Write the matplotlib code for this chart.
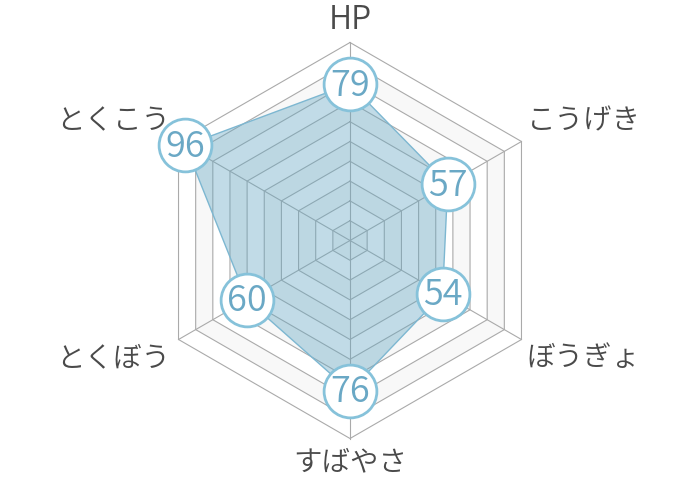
import numpy as np
import matplotlib
matplotlib.use("Agg")
import matplotlib.pyplot as plt

categories = ["HP", "こうげき", "ぼうぎょ", "すばやさ", "とくぼう", "とくこう"]
values = [79, 57, 54, 76, 60, 96]
max_value = 100
ring_step = 10

plt.rcParams['font.family'] = ['Noto Sans CJK JP', 'DejaVu Sans']

fig = plt.figure(figsize=(7, 4.8), dpi=100)
ax = fig.add_axes([0, 0, 1, 1])
scale = 1.98  # px per unit
ax.set_xlim(-350 / scale, 350 / scale)
ax.set_ylim(-239.5 / scale, 240.5 / scale)
ax.set_aspect('equal')
ax.axis('off')

n = len(categories)
angles = np.pi / 2 - np.arange(n) * 2 * np.pi / n


def xy(r):
    r = np.asarray(r, dtype=float)
    return r * np.cos(angles), r * np.sin(angles)


levels = np.arange(ring_step, max_value + 1, ring_step)
for i, lv in enumerate(levels[::-1]):
    x, y = xy(np.full(n, lv))
    face = '#ffffff' if i % 2 == 0 else '#f8f8f8'
    ax.fill(x, y, facecolor=face, edgecolor='none', zorder=1)

for lv in levels:
    x, y = xy(np.full(n, lv))
    ax.plot(np.append(x, x[0]), np.append(y, y[0]), color='#aaaaaa', lw=0.8, zorder=2)
ox, oy = xy(np.full(n, max_value))
for k in range(n):
    ax.plot([0, ox[k]], [0, oy[k]], color='#aaaaaa', lw=0.8, zorder=2)

vx, vy = xy(values)
ax.fill(vx, vy, facecolor=(100/255, 167/255, 195/255, 0.4),
        edgecolor='#7db7d1', lw=1.0, zorder=3)
ax.plot(vx, vy, 'o', markersize=38, markerfacecolor='white',
        markeredgecolor='#86c2da', markeredgewidth=2, zorder=4, linestyle='none')
for x, y, v in zip(vx, vy, values):
    ax.text(x, y - 0.5, str(v), ha='center', va='center', fontsize=26,
            fontweight=350, color='#6aa8c5', zorder=5)

lab_color = '#4a4a4a'
for k, lab in enumerate(categories):
    x, y = ox[k], oy[k]
    c = np.cos(angles[k])
    s = np.sin(angles[k])
    fs = 23 if lab.isascii() else 20.5
    if abs(c) < 1e-6:
        ty = y + (22 if s > 0 else -24) / scale
        ax.text(x, ty, lab, ha='center', va='center', fontsize=fs,
                fontweight=350, color=lab_color)
    else:
        tx = x + (5 if c > 0 else -8) / scale
        ty = y + (20 if s > 0 else -19) / scale
        ax.text(tx, ty, lab, ha='left' if c > 0 else 'right', va='center',
                fontsize=fs, fontweight=350, color=lab_color)

fig.savefig('out.png', dpi=100, facecolor='white')
